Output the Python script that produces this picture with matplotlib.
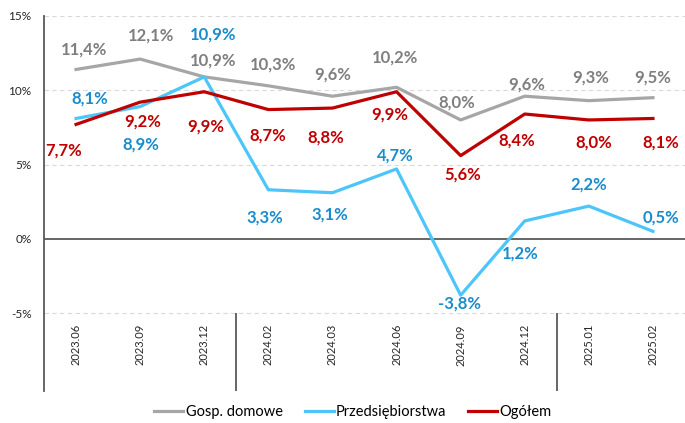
import matplotlib.pyplot as plt
from matplotlib.lines import Line2D

plt.rcParams['font.family'] = ['Lato', 'DejaVu Sans']

okresy = ['2023.06', '2023.09', '2023.12', '2024.02', '2024.03',
          '2024.06', '2024.09', '2024.12', '2025.01', '2025.02']
gosp_domowe = [11.4, 12.1, 10.9, 10.3, 9.6, 10.2, 8.0, 9.6, 9.3, 9.5]
przedsiebiorstwa = [8.1, 8.9, 10.9, 3.3, 3.1, 4.7, -3.8, 1.2, 2.2, 0.5]
ogolem = [7.7, 9.2, 9.9, 8.7, 8.8, 9.9, 5.6, 8.4, 8.0, 8.1]

# przesunięcia etykiet (piksele, dy > 0 w górę)
off_gosp = [(8, 20), (11, 24), (9, 16), (5, 21), (0, 22), (-2, 30), (-4, 17), (2, 12), (2, 23), (0, 20)]
off_przed = [(14, 20), (1, -38), (9, 42), (-4, -28), (-3, -22), (-1, 13), (-1, -8), (-5, -33), (0, 22), (8, 14)]
off_ogol = [(-12, -26), (3, -19), (1, -35), (-1, -26), (-7, -29), (-7, -23), (2, -19), (-8, -26), (5, -23), (8, -24)]

series = [
    ('Gosp. domowe', gosp_domowe, '#a6a6a6', '#7f7f7f', off_gosp),
    ('Przedsiębiorstwa', przedsiebiorstwa, '#4cc6fa', '#1a8ccc', off_przed),
    ('Ogółem', ogolem, '#c00000', '#c00000', off_ogol),
]

fig = plt.figure(figsize=(6.85, 4.23), dpi=100)
ax = fig.add_axes([44 / 685, 1 - 391 / 423, 1 - 44 / 685, (391 - 16) / 423])
ymin, ymax = -10.25, 15
ax.set_ylim(ymin, ymax)
ax.set_xlim(-0.5, len(okresy) - 0.5)

for y in [15, 10, 5, -5]:
    ax.axhline(y, color='#d9d9d9', lw=0.8, ls=(0, (4, 3)), zorder=0)
ax.axhline(0, color='#595959', lw=1.3, zorder=1)

# separatory między latami
for i in range(1, len(okresy)):
    if okresy[i][:4] != okresy[i - 1][:4]:
        ax.vlines(i - 0.5, ymin, -5, color='#595959', lw=1.3)

x = list(range(len(okresy)))
handles = []
for name, vals, lc, tc, offs in series:
    ax.plot(x, vals, color=lc, lw=2.3, zorder=3)
    handles.append(Line2D([], [], color=lc, lw=2.3, label=name))
    for i, v in enumerate(vals):
        ax.annotate(f'{v:.1f}%'.replace('.', ','), (i, v), xytext=offs[i],
                    textcoords='offset pixels', ha='center', va='center',
                    fontsize=12, fontweight='bold', color=tc, zorder=4)

for i, lab in enumerate(okresy):
    ax.annotate(lab, (i, -5), xytext=(0, -11), textcoords='offset pixels',
                rotation=90, ha='center', va='top', fontsize=8, color='#262626')

ax.set_xticks([])
ax.set_yticks([-5, 0, 5, 10, 15])
ax.set_yticklabels([f'{v}%' for v in [-5, 0, 5, 10, 15]], fontsize=8.5, color='#262626')
ax.tick_params(axis='y', length=0, pad=9)
for s in ['top', 'right', 'bottom']:
    ax.spines[s].set_visible(False)
ax.spines['left'].set_color('#595959')
ax.spines['left'].set_linewidth(1.3)

fig.legend(handles=handles, loc='center', bbox_to_anchor=(353 / 685, 1 - 412 / 423),
           ncol=3, frameon=False, fontsize=10.5, handlelength=2.0,
           handletextpad=0.15, columnspacing=1.5)

fig.savefig('out.png', dpi=100)
